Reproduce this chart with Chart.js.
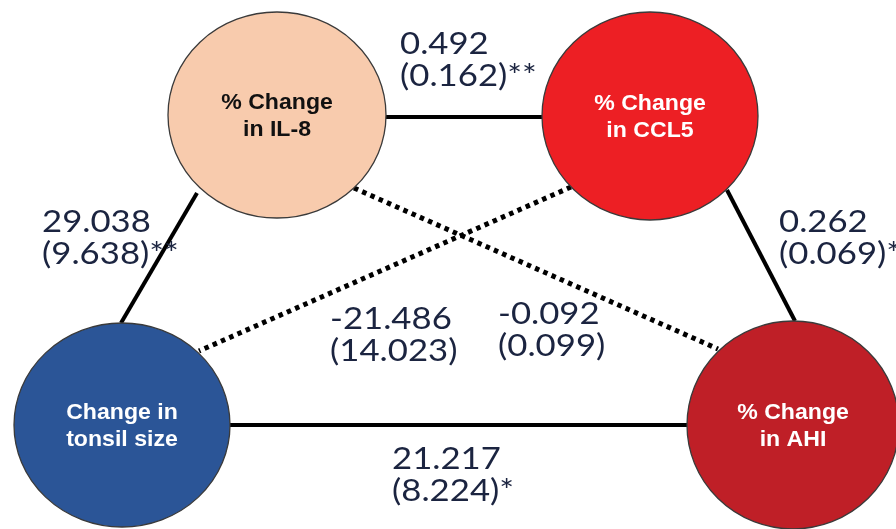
<!DOCTYPE html>
<html>
<head>
<meta charset="utf-8">
<script src="https://cdn.jsdelivr.net/npm/chart.js@4/dist/chart.umd.min.js"></script>
<style>
  html, body { margin: 0; padding: 0; background: #ffffff; }
  #wrap { width: 896px; height: 529px; position: relative; }
</style>
</head>
<body>
<div id="wrap"><canvas id="c"></canvas></div>
<script>
// Path model: four variables and the six estimated paths between them.
const nodeLabels = [
  ['% Change', 'in IL-8'],
  ['% Change', 'in CCL5'],
  ['Change in', 'tonsil size'],
  ['% Change', 'in AHI']
];
const pathFrom = [0, 0, 1, 2, 0, 1];
const pathTo   = [1, 2, 3, 3, 3, 2];
const estimates  = [0.492, 29.038, 0.262, 21.217, -0.092, -21.486];
const stdErrors  = [0.162, 9.638, 0.069, 8.224, 0.099, 14.023];
const stars      = ['**', '**', '***', '*', '', ''];

// Diagram layout (in the chart's own 896 x 529 coordinate space).
const nodeCenters = [[277, 115], [650, 116], [122, 425], [793, 425]];
const nodeRadii   = [[109, 103], [108, 104], [108, 102], [106, 104]];
const nodeFill    = ['#f8cbad', '#ed1f24', '#2b5597', '#bf1f27'];
const nodeText    = ['#111111', '#ffffff', '#ffffff', '#ffffff'];
const pathEnds = [
  [[385, 117], [542, 117]],
  [[197, 193], [121, 323]],
  [[727, 190], [795, 321]],
  [[230, 425], [687, 425]],
  [[354, 188], [718, 349]],
  [[571, 187], [199, 351]]
];
const labelAnchors = [[400, 44], [42, 222], [779, 222], [392, 459], [498, 314], [330, 319]];

function fmt(v) { return v.toFixed(3); }

// Ellipse images used as point styles for the variable nodes.
const nodeImages = nodeFill.map((fill, i) => {
  const [rx, ry] = nodeRadii[i];
  const cv = document.createElement('canvas');
  cv.width = Math.ceil(rx * 2 + 4);
  cv.height = Math.ceil(ry * 2 + 4);
  const g = cv.getContext('2d');
  g.beginPath();
  g.ellipse(cv.width / 2, cv.height / 2, rx, ry, 0, 0, Math.PI * 2);
  g.fillStyle = fill;
  g.fill();
  g.lineWidth = 1.3;
  g.strokeStyle = '#3a3a3a';
  g.stroke();
  return cv;
});

const pathDatasets = estimates.map((est, i) => {
  const significant = stars[i].length > 0;
  return {
    type: 'line',
    data: pathEnds[i].map(([x, y]) => ({ x, y })),
    borderColor: '#000000',
    borderWidth: significant ? 4 : 5,
    borderDash: significant ? [] : [4.5, 4.5],
    borderCapStyle: 'butt',
    pointRadius: 0,
    showLine: true,
    fill: false,
    clip: false,
    order: 2
  };
});

const nodeDataset = {
  type: 'scatter',
  data: nodeCenters.map(([x, y]) => ({ x, y })),
  pointStyle: nodeImages,
  pointRadius: 100,
  pointHoverRadius: 100,
  clip: false,
  order: 1
};

// Draw text horizontally widened around its anchor.
function wideText(ctx, text, x, y, sx) {
  ctx.save();
  ctx.translate(x, y);
  ctx.scale(sx, 1);
  ctx.fillText(text, 0, 0);
  ctx.restore();
}

const labelPlugin = {
  id: 'pathLabels',
  afterDatasetsDraw(chart) {
    const { ctx, scales } = chart;
    const xs = scales.x, ys = scales.y;
    ctx.save();
    // node names
    ctx.textAlign = 'center';
    ctx.textBaseline = 'middle';
    ctx.font = 'bold 22px "Liberation Sans", Arial, sans-serif';
    nodeLabels.forEach((lines, i) => {
      const cx = xs.getPixelForValue(nodeCenters[i][0]);
      const cy = ys.getPixelForValue(nodeCenters[i][1]);
      ctx.fillStyle = nodeText[i];
      wideText(ctx, lines[0], cx, cy - 12, 1.05);
      wideText(ctx, lines[1], cx, cy + 15, 1.05);
    });
    // path coefficients with standard errors
    ctx.textAlign = 'left';
    ctx.font = '31px Lato, "Open Sans", sans-serif';
    ctx.fillStyle = '#1b2440';
    estimates.forEach((est, i) => {
      const x = xs.getPixelForValue(labelAnchors[i][0]);
      const y = ys.getPixelForValue(labelAnchors[i][1]);
      wideText(ctx, fmt(est), x, y, 1.12);
      wideText(ctx, '(' + fmt(stdErrors[i]) + ')' + stars[i], x, y + 32, 1.12);
    });
    ctx.restore();
  }
};

new Chart(document.getElementById('c'), {
  data: { datasets: [...pathDatasets, nodeDataset] },
  options: {
    responsive: true,
    maintainAspectRatio: false,
    animation: false,
    events: [],
    layout: { padding: 0, autoPadding: false },
    plugins: { legend: { display: false }, tooltip: { enabled: false } },
    scales: {
      x: { type: 'linear', min: 0, max: 896, display: false },
      y: { type: 'linear', min: 0, max: 529, reverse: true, display: false }
    }
  },
  plugins: [labelPlugin]
});
</script>
</body>
</html>
